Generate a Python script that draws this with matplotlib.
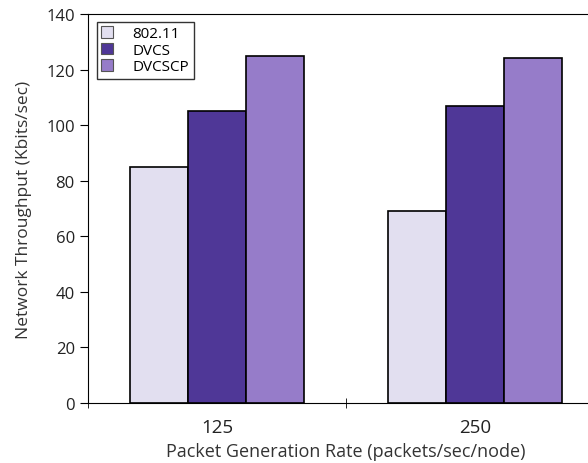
import numpy as np
import matplotlib
matplotlib.use("Agg")
import matplotlib.pyplot as plt

categories = ["125", "250"]
series = ["802.11", "DVCS", "DVCSCP"]
thr_80211 = [85, 69]
thr_dvcs = [105, 107]
thr_dvcscp = [125, 124]
colors = ["#E2DFF0", "#4F3797", "#967CC9"]

plt.rcParams['font.family'] = ['Open Sans', 'DejaVu Sans']

fig = plt.figure(figsize=(5.88, 4.64), dpi=100)
# axes run past the right edge of the picture, like the reference
ax = fig.add_axes([88 / 588, 1 - 404 / 464, 516 / 588, 389 / 464])

x = np.arange(len(categories)) + 0.5
w = 0.225
for i, (vals, name) in enumerate(zip([thr_80211, thr_dvcs, thr_dvcscp], series)):
    ax.bar(x + (i - 1) * w, vals, w, color=colors[i], edgecolor="black",
           linewidth=1.2, label=name)

ax.set_xlim(0, 2)
ax.set_ylim(0, 140)
ax.set_yticks(np.arange(0, 141, 20))
ax.set_xticks(x)
ax.set_xticklabels(categories)
ax.set_xticks([0, 1, 2], minor=True)
ax.tick_params(axis="x", which="major", length=0, labelsize=13.5, pad=11)
ax.tick_params(axis="x", which="minor", length=7, direction="inout")
ax.tick_params(axis="y", length=6, direction="out", labelsize=12)
for lbl in ax.get_yticklabels() + ax.get_xticklabels():
    lbl.set_color("#222222")
ax.spines["right"].set_visible(False)
ax.set_xlabel("Packet Generation Rate (packets/sec/node)", fontsize=13,
              color="#333333", labelpad=4)
ax.set_ylabel("Network Throughput (Kbits/sec)", fontsize=12.5, color="#333333",
              labelpad=10)

leg = ax.legend(loc="upper left", fontsize=11, frameon=True, fancybox=False,
                edgecolor="black", handlelength=0.75, handleheight=0.75,
                borderpad=0.3, labelspacing=0.1, handletextpad=1.3,
                borderaxespad=0, bbox_to_anchor=(0.017, 0.98))
leg.get_frame().set_linewidth(1.0)
for h in leg.legend_handles:
    h.set_edgecolor("#555555")
    h.set_linewidth(0.8)

fig.savefig("out.png", dpi=100)
